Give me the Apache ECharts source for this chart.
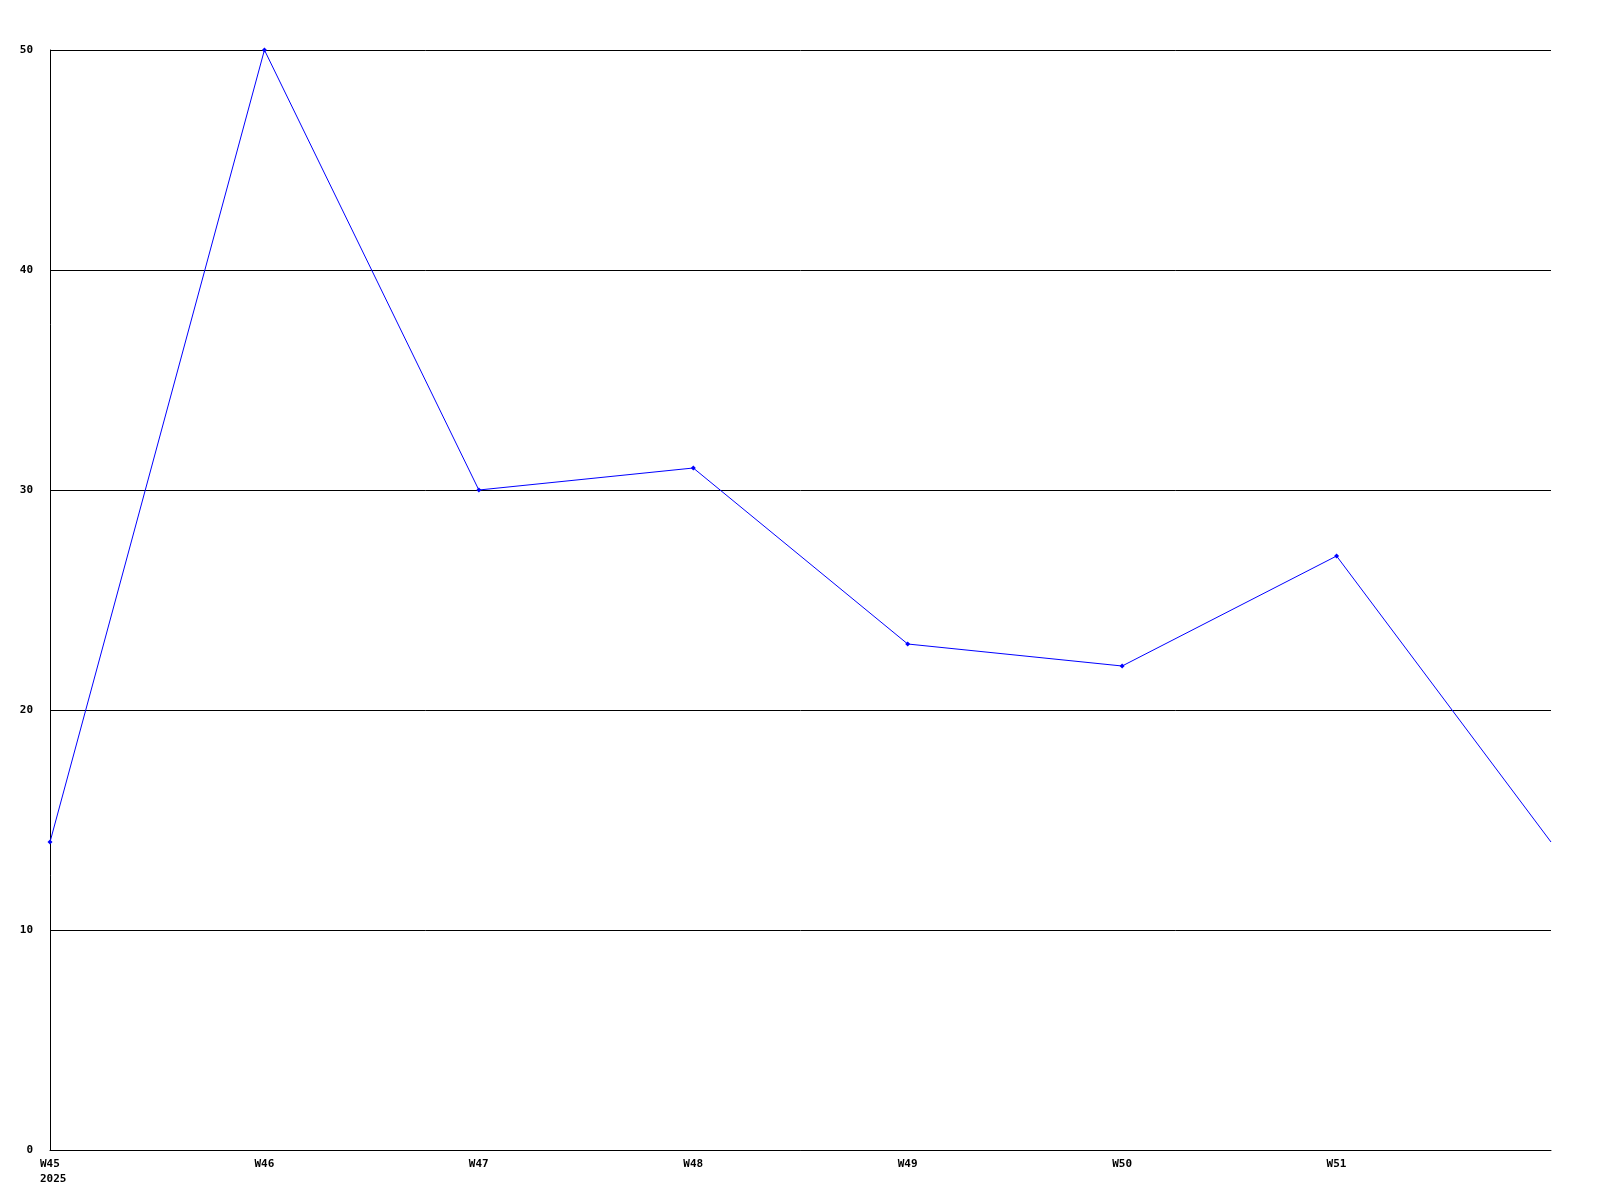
<!DOCTYPE html>
<html><head><meta charset="utf-8">
<script src="https://cdn.jsdelivr.net/npm/echarts@6/dist/echarts.min.js"></script>
<style>html,body{margin:0;padding:0;background:#fff}#c{width:1600px;height:1200px}</style>
</head><body><div id="c"></div>
<script>
const categories = ['W45\n2025', 'W46', 'W47', 'W48', 'W49', 'W50', 'W51', ''];
const values = [14, 50, 30, 31, 23, 22, 27, 14];

const chart = echarts.init(document.getElementById('c'), null, {renderer: 'canvas'});
const font = {fontFamily: 'DejaVu Sans Mono', fontWeight: 'bold', fontSize: 11, color: '#000'};
chart.setOption({
  animation: false,
  backgroundColor: '#fff',
  grid: {left: 50, right: 49, top: 50, bottom: 50, containLabel: false},
  xAxis: {
    type: 'category', data: categories, boundaryGap: false,
    axisLine: {show: true, lineStyle: {color: '#000', width: 1}},
    axisTick: {show: false},
    axisLabel: Object.assign({margin: 7, lineHeight: 15, interval: 0, align: 'left', padding: [0, 0, 0, -10]}, font),
    splitLine: {show: false}
  },
  yAxis: {
    type: 'value', min: 0, max: 50, interval: 10,
    axisLine: {show: true, lineStyle: {color: '#000', width: 1}},
    axisTick: {show: false},
    axisLabel: Object.assign({margin: 17}, font),
    splitLine: {show: true, lineStyle: {color: '#000', width: 1}}
  },
  series: [{
    type: 'line',
    data: values.map((v, i) => i === values.length - 1 ? {value: v, symbol: 'none'} : v),
    symbol: 'diamond', symbolSize: 5, showAllSymbol: true,
    lineStyle: {color: '#0000ff', width: 1},
    itemStyle: {color: '#0000ff', borderWidth: 0}
  }]
});
</script></body></html>
